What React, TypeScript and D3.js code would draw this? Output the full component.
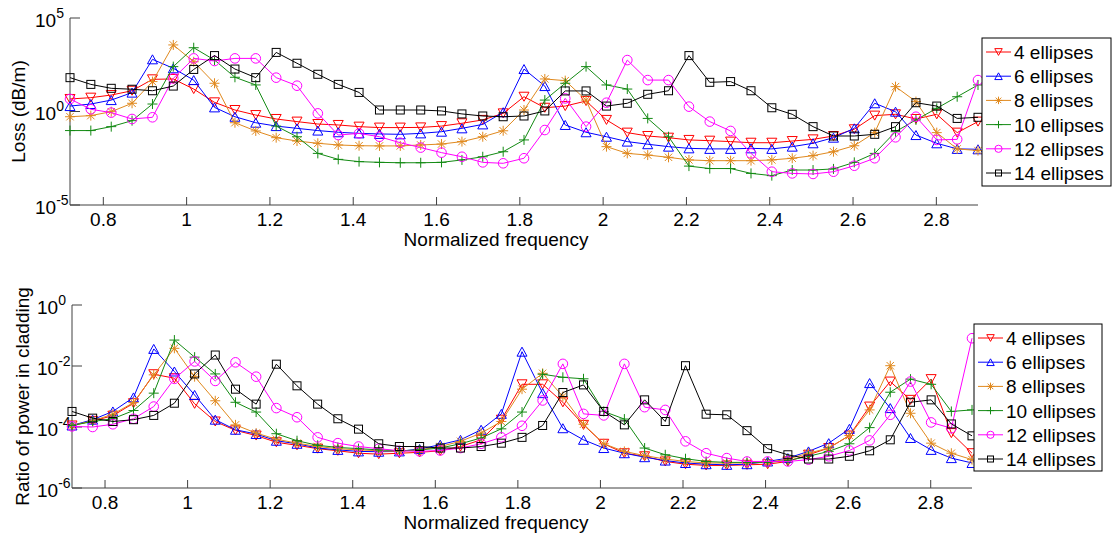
import * as d3 from "d3"

// normalized frequency of every sample (same grid in both panels)
const freq = [
  0.720, 0.770, 0.819, 0.869, 0.918, 0.968, 1.017, 1.067, 1.116, 1.166,
  1.215, 1.265, 1.315, 1.364, 1.414, 1.463, 1.513, 1.562, 1.612, 1.661,
  1.711, 1.760, 1.810, 1.860, 1.909, 1.959, 2.008, 2.058, 2.107, 2.157,
  2.206, 2.256, 2.306, 2.355, 2.405, 2.454, 2.504, 2.553, 2.603, 2.652,
  2.702, 2.751, 2.801, 2.850, 2.900,
]

// loss, stored as log10 of dB/m
const loss4 = [
  0.67, 0.74, 0.88, 1.11, 1.72, 1.74, 1.20, 0.49, 0.08, -0.19,
  -0.40, -0.54, -0.67, -0.72, -0.81, -0.86, -0.86, -0.85, -0.78, -0.63,
  -0.45, -0.10, 0.79, 0.20, 0.29, 0.56, -0.45, -1.13, -1.31, -1.40,
  -1.52, -1.56, -1.61, -1.67, -1.67, -1.58, -1.49, -1.31, -0.95, -0.22,
  -0.15, -0.40, -0.15, -1.13, -0.54,
]
const loss6 = [
  0.29, 0.40, 0.61, 1.01, 2.79, 2.31, 1.68, 0.22, -0.28, -0.60,
  -0.78, -0.90, -1.02, -1.11, -1.17, -1.20, -1.22, -1.17, -1.08, -0.90,
  -0.69, -0.04, 2.27, 1.36, -0.72, -1.11, -1.35, -1.61, -1.75, -1.88,
  -1.97, -2.00, -2.00, -1.97, -2.00, -1.88, -1.70, -1.40, -0.90, 0.44,
  -0.01, -1.26, -1.70, -2.00, -2.02,
]
const loss8 = [
  -0.28, -0.22, -0.01, 0.44, 1.60, 3.56, 2.66, 1.51, -0.60, -1.04,
  -1.40, -1.58, -1.70, -1.79, -1.83, -1.84, -1.84, -1.79, -1.74, -1.61,
  -1.35, -1.03, 0.08, 1.74, 1.65, 0.61, -1.88, -2.24, -2.33, -2.45,
  -2.59, -2.63, -2.63, -2.63, -2.59, -2.50, -2.36, -2.15, -1.83, -1.13,
  1.33, 0.53, -1.13, -2.00, -2.09,
]
const loss10 = [
  -1.02, -1.02, -0.81, -0.49, 0.40, 2.40, 3.41, 2.75, 1.83, 1.42,
  -0.78, -1.35, -2.24, -2.56, -2.68, -2.72, -2.74, -2.74, -2.72, -2.59,
  -2.42, -2.15, -1.52, 0.61, 1.51, 2.40, 1.42, 1.20, -0.37, -1.35,
  -2.92, -3.05, -3.05, -3.31, -3.43, -3.13, -3.13, -3.07, -2.72, -2.24,
  -1.08, -0.45, 0.17, 0.79, 1.42,
]
const loss12 = [
  0.67, 0.12, -0.06, -0.40, -0.31, 1.77, 2.84, 2.70, 2.84, 2.84,
  1.81, 1.38, -0.10, -1.26, -1.17, -1.35, -1.67, -1.93, -2.20, -2.42,
  -2.72, -2.77, -2.50, -0.99, 0.70, -0.81, 0.47, 2.75, 1.68, 1.68,
  0.26, -0.54, -1.04, -2.24, -3.22, -3.31, -3.34, -3.22, -2.90, -2.50,
  -1.38, -0.28, -1.52, -1.49, 1.68,
]
const loss14 = [
  1.81, 1.45, 1.24, 1.19, 1.11, 1.36, 2.25, 2.99, 2.27, 1.81,
  3.16, 2.58, 1.99, 1.45, 1.02, 0.08, 0.08, 0.08, 0.03, -0.13,
  -0.24, -0.28, -0.24, 0.03, 1.10, 1.10, 0.29, 0.44, 0.92, 1.11,
  2.99, 1.56, 1.60, 1.11, 0.20, -0.15, -0.81, -1.31, -1.31, -1.22,
  -0.81, 0.47, 0.29, -0.37, -0.31,
]

// ratio of power in cladding, stored as log10
const ratio4 = [
  -3.95, -3.80, -3.63, -3.22, -2.27, -2.40, -3.24, -3.82, -4.11, -4.28,
  -4.50, -4.60, -4.71, -4.78, -4.86, -4.89, -4.86, -4.83, -4.78, -4.64,
  -4.42, -3.76, -2.60, -2.60, -3.19, -3.93, -4.55, -4.86, -4.96, -5.13,
  -5.22, -5.26, -5.26, -5.24, -5.22, -5.13, -4.91, -4.69, -4.28, -3.33,
  -2.51, -3.11, -2.43, -4.20, -4.86,
]
const ratio6 = [
  -3.95, -3.76, -3.49, -3.03, -1.44, -2.18, -2.95, -3.76, -4.09, -4.23,
  -4.45, -4.55, -4.69, -4.75, -4.80, -4.81, -4.80, -4.72, -4.58, -4.42,
  -4.09, -3.57, -1.53, -2.89, -4.04, -4.42, -4.69, -4.86, -4.99, -5.10,
  -5.18, -5.22, -5.24, -5.22, -5.13, -5.02, -4.80, -4.53, -4.06, -2.56,
  -3.38, -4.36, -4.75, -5.02, -5.18,
]
const ratio8 = [
  -3.95, -3.80, -3.58, -3.20, -2.29, -1.42, -2.35, -3.14, -3.93, -4.20,
  -4.40, -4.53, -4.64, -4.71, -4.75, -4.78, -4.80, -4.75, -4.64, -4.47,
  -4.20, -3.82, -2.76, -2.24, -3.00, -3.91, -4.55, -4.80, -4.94, -5.05,
  -5.13, -5.18, -5.18, -5.18, -5.16, -5.05, -4.86, -4.69, -4.28, -3.44,
  -1.99, -3.55, -4.53, -4.86, -5.07,
]
const ratio10 = [
  -3.95, -3.82, -3.73, -3.46, -2.89, -1.15, -1.71, -2.26, -3.19, -3.51,
  -4.22, -4.45, -4.60, -4.67, -4.71, -4.75, -4.78, -4.75, -4.69, -4.55,
  -4.36, -4.06, -3.51, -2.27, -2.37, -2.42, -3.49, -3.74, -4.69, -4.91,
  -5.04, -5.13, -5.16, -5.16, -5.16, -5.10, -4.96, -4.80, -4.55, -4.02,
  -2.86, -2.43, -2.60, -3.49, -3.44,
]
const ratio12 = [
  -3.98, -4.00, -3.91, -3.73, -3.33, -2.42, -1.85, -2.49, -1.88, -2.35,
  -3.38, -3.68, -4.34, -4.53, -4.64, -4.71, -4.78, -4.80, -4.77, -4.69,
  -4.55, -4.34, -3.96, -3.13, -1.93, -3.57, -3.62, -1.93, -3.35, -3.44,
  -4.47, -4.86, -5.02, -5.13, -5.13, -5.13, -5.07, -4.96, -4.77, -4.44,
  -3.60, -2.51, -3.85, -4.04, -1.09,
]
const ratio14 = [
  -3.49, -3.71, -3.82, -3.76, -3.62, -3.22, -2.26, -1.64, -2.76, -3.25,
  -1.94, -2.65, -3.25, -3.73, -4.07, -4.55, -4.64, -4.64, -4.69, -4.69,
  -4.64, -4.53, -4.34, -3.95, -2.87, -2.62, -3.49, -3.93, -3.11, -3.82,
  -1.99, -3.58, -3.60, -4.12, -4.71, -4.91, -5.05, -5.05, -4.96, -4.78,
  -4.42, -3.19, -3.11, -3.90, -4.29,
]

const labels = ["4 ellipses", "6 ellipses", "8 ellipses", "10 ellipses", "12 ellipses", "14 ellipses"]
const colors = ["#ff0000", "#0000ff", "#e0891e", "#138a13", "#ff00ff", "#000000"]
const markers = ["down", "up", "star", "plus", "circle", "square"]

const xTicks = [0.8, 1, 1.2, 1.4, 1.6, 1.8, 2, 2.2, 2.4, 2.6, 2.8]
const lossExpTicks = [-5, 0, 5]
const ratioExpTicks = [-6, -4, -2, 0]

const FONT = "'Liberation Sans', Arial, sans-serif"
const AXIS = "#404040"

function Marker({ kind, x, y, color, s = 1 }) {
  const p = { fill: "none", stroke: color, strokeWidth: 1 }
  const a = 5 * s, b = 4.5 * s
  if (kind === "down") return <path d={`M${x - a},${y - b}L${x + a},${y - b}L${x},${y + b}Z`} {...p} />
  if (kind === "up") return <path d={`M${x - a},${y + b}L${x + a},${y + b}L${x},${y - b}Z`} {...p} />
  if (kind === "circle") return <circle cx={x} cy={y} r={4.8 * s} {...p} />
  if (kind === "square") return <rect x={x - 4 * s} y={y - 4 * s} width={8 * s} height={8 * s} {...p} />
  if (kind === "plus") return <path d={`M${x - a},${y}L${x + a},${y}M${x},${y - a}L${x},${y + a}`} {...p} />
  // star: + and x together
  const c = 3.7 * s
  return <path d={`M${x - a},${y}L${x + a},${y}M${x},${y - a}L${x},${y + a}M${x - c},${y - c}L${x + c},${y + c}M${x - c},${y + c}L${x + c},${y - c}`} {...p} />
}

function Panel({ series, box, yExp, yTicks, yLabel, yLabelX, legend }) {
  const x = d3.scaleLinear().domain([0.72, 2.9]).range([box.left, box.right])
  const y = d3.scaleLog().domain([10 ** yExp[0], 10 ** yExp[1]]).range([box.bottom, box.top])
  const line = d3.line<[number, number]>().x(d => x(d[0])).y(d => y(d[1]))

  return (
    <g>
      {/* axes, box off, ticks pointing in */}
      <line x1={box.left} x2={box.left} y1={box.top} y2={box.bottom} stroke={AXIS} />
      <line x1={box.left} x2={box.right} y1={box.bottom} y2={box.bottom} stroke={AXIS} />
      {xTicks.map(t => (
        <g key={t}>
          <line x1={x(t)} x2={x(t)} y1={box.bottom} y2={box.bottom - 8} stroke={AXIS} />
          <text x={x(t)} y={box.bottom + 21} textAnchor="middle" fontSize={19}>{t}</text>
        </g>
      ))}
      {yTicks.map(e => (
        <g key={e}>
          <line x1={box.left} x2={box.left + 10} y1={y(10 ** e)} y2={y(10 ** e)} stroke={AXIS} />
          <text x={box.left - 35} y={y(10 ** e) + 8.5} fontSize={19}>
            10<tspan fontSize={14} dy={-9}>{e}</tspan>
          </text>
        </g>
      ))}
      <text x={496} y={box.bottom + 41} textAnchor="middle" fontSize={19}>Normalized frequency</text>
      <text transform={`translate(${yLabelX},${(box.top + box.bottom) / 2}) rotate(-90)`}
        textAnchor="middle" fontSize={19}>{yLabel}</text>

      {series.map((s, i) => {
        const pts = freq.map((f, k) => [f, 10 ** s[k]] as [number, number])
        return (
          <g key={i}>
            <path d={line(pts)} fill="none" stroke={colors[i]} strokeWidth={1} />
            {pts.map((d, k) => <Marker key={k} kind={markers[i]} x={x(d[0])} y={y(d[1])} color={colors[i]} />)}
          </g>
        )
      })}

      <rect x={legend.x} y={legend.y} width={legend.w} height={legend.h} fill="#fff" stroke="#000" />
      {labels.map((lab, i) => {
        const cy = legend.y + 14 + i * 24.2
        const lx = legend.x + 4
        return (
          <g key={lab}>
            <line x1={lx} x2={lx + 25} y1={cy} y2={cy} stroke={colors[i]} />
            <Marker kind={markers[i]} x={lx + 12.5} y={cy} color={colors[i]} s={0.75} />
            <text x={lx + 28} y={cy + 7} fontSize={19}>{lab}</text>
          </g>
        )
      })}
    </g>
  )
}

export default function App() {
  return (
    <svg width={1112} height={533} style={{ position: "absolute", left: 0, top: 0, background: "#fff" }}
      fontFamily={FONT}>
      <Panel series={[loss4, loss6, loss8, loss10, loss12, loss14]}
        box={{ left: 70, right: 978, top: 18, bottom: 205 }}
        yExp={[-5, 5]} yTicks={lossExpTicks} yLabel="Loss (dB/m)" yLabelX={25}
        legend={{ x: 982, y: 38, w: 129, h: 148 }} />
      <Panel series={[ratio4, ratio6, ratio8, ratio10, ratio12, ratio14]}
        box={{ left: 72, right: 972, top: 305, bottom: 488 }}
        yExp={[-6, 0]} yTicks={ratioExpTicks} yLabel="Ratio of power in cladding" yLabelX={29}
        legend={{ x: 974, y: 324, w: 128, h: 147 }} />
    </svg>
  )
}
